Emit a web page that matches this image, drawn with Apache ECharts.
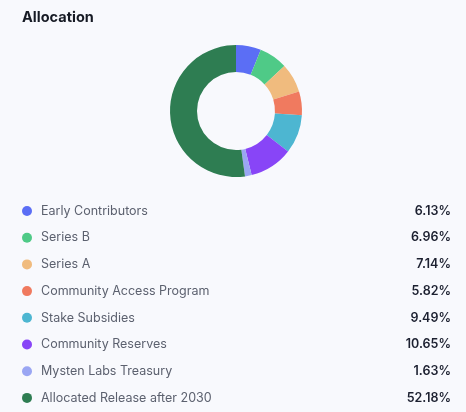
<!DOCTYPE html>
<html>
<head>
<meta charset="utf-8">
<script src="https://cdn.jsdelivr.net/npm/echarts@6/dist/echarts.min.js"></script>
<style>
  html, body { margin: 0; padding: 0; background: #f8f9fd; }
  #chart { width: 466px; height: 412px; }
</style>
</head>
<body>
<div id="chart"></div>
<script>
// allocation data
var categories = ['Early Contributors', 'Series B', 'Series A', 'Community Access Program',
  'Stake Subsidies', 'Community Reserves', 'Mysten Labs Treasury', 'Allocated Release after 2030'];
var percents = [6.13, 6.96, 7.14, 5.82, 9.49, 10.65, 1.63, 52.18];
var colors = ['#5b6ef5', '#4fca87', '#f0bb7e', '#f07a5f', '#4db6d1', '#8845f7', '#9aa6f3', '#2e7d52'];

var pieData = categories.map(function (name, i) {
  return { name: name, value: percents[i] };
});

var chart = echarts.init(document.getElementById('chart'));
chart.setOption({
  backgroundColor: '#f8f9fd',
  color: colors,
  animation: false,
  title: {
    text: 'Allocation',
    left: 17,
    top: 5,
    textStyle: { fontFamily: 'Inter', fontSize: 14.5, fontWeight: 'bold', color: '#161a24' }
  },
  legend: {
    orient: 'vertical',
    left: 17,
    top: 198,
    height: 210,
    icon: 'circle',
    itemWidth: 10,
    itemHeight: 10,
    itemGap: 10.7,
    selectedMode: false,
    data: categories,
    formatter: function (name) {
      var i = categories.indexOf(name);
      return '{n|' + name + '}{v|' + percents[i].toFixed(2) + '%}';
    },
    textStyle: {
      fontFamily: 'Inter',
      lineHeight: 16,
      rich: {
        n: { fontFamily: 'Inter', fontSize: 12.5, color: '#5c616f', width: 300, padding: [0, 0, 0, 4], lineHeight: 16 },
        v: { fontFamily: 'Inter', fontSize: 12.5, fontWeight: 600, color: '#1c2030', width: 110, align: 'right', lineHeight: 16 }
      }
    }
  },
  series: [{
    type: 'pie',
    center: [236, 111],
    radius: [39, 66],
    startAngle: 90,
    label: { show: false },
    labelLine: { show: false },
    emphasis: { disabled: true },
    data: pieData
  }]
});
</script>
</body>
</html>
